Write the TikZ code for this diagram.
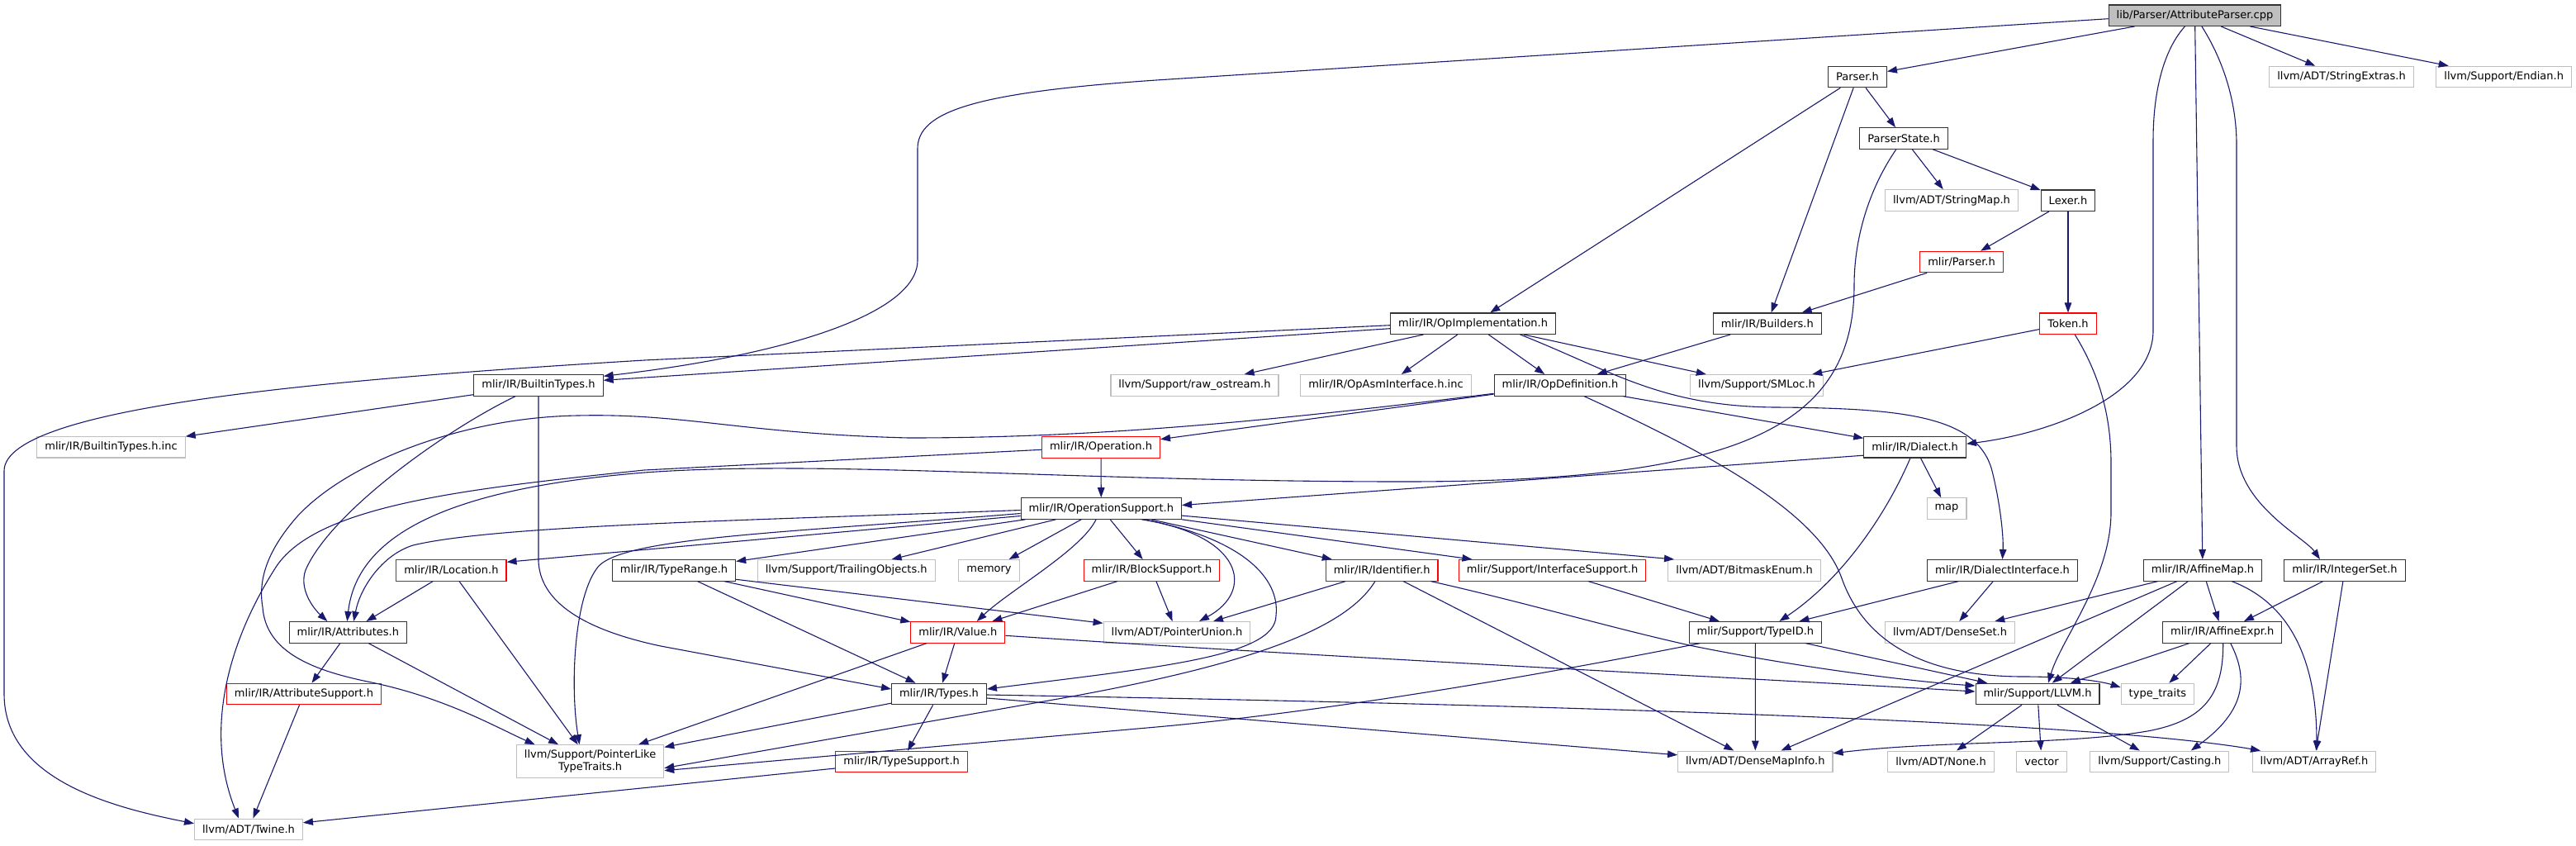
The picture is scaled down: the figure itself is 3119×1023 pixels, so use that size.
\documentclass[tikz,border=0pt]{standalone}
\usepackage{fontspec}
\setmainfont{DejaVu Sans}
\usetikzlibrary{arrows.meta}
\definecolor{edgecol}{HTML}{191970}
\definecolor{docborder}{HTML}{333333}
\definecolor{redborder}{HTML}{FF0000}
\definecolor{extborder}{HTML}{BFBFBF}
\definecolor{rootfill}{HTML}{BFBFBF}
\tikzset{
  basebox/.style={draw, rectangle, line width=1.1pt, minimum height=25.5pt, inner xsep=9.5pt, inner ysep=2pt, font=\fontsize{13}{15}\selectfont, anchor=center, fill=white},
  docbox/.style={basebox, draw=docborder},
  redbox/.style={basebox, draw=redborder},
  extbox/.style={basebox, draw=extborder},
  rootbox/.style={basebox, draw=docborder, fill=rootfill},
  dep/.style={draw=edgecol, line width=1.1pt, -{Triangle[length=12pt,width=8.5pt]}},
}
\begin{document}
\begin{tikzpicture}[x=1pt,y=-1pt]
\useasboundingbox (0,0) rectangle (3119,1023);
\fill[white] (0,0) rectangle (3119,1023);
% nodes
\node[rootbox] (root) at (2657.5,18.7) {lib/Parser/AttributeParser.cpp};
\node[docbox] (parser) at (2249,93) {Parser.h};
\node[extbox] (strext) at (2835,93) {llvm/ADT/StringExtras.h};
\node[extbox] (endian) at (3031.7,93) {llvm/Support/Endian.h};
\node[docbox] (pstate) at (2305,167.5) {ParserState.h};
\node[extbox] (strmap) at (2363,242.5) {llvm/ADT/StringMap.h};
\node[docbox] (lexer) at (2504,242.7) {Lexer.h};
\node[redbox] (mparser) at (2375,317) {mlir/Parser.h};
\node[docbox] (opimpl) at (1783.6,391.7) {mlir/IR/OpImplementation.h};
\node[docbox] (builders) at (2139.8,391.7) {mlir/IR/Builders.h};
\node[redbox] (token) at (2504,391.7) {Token.h};
\node[docbox] (btypes) at (652,466.3) {mlir/IR/BuiltinTypes.h};
\node[extbox] (rawos) at (1446.5,466.3) {llvm/Support/raw\_ostream.h};
\node[extbox] (opasm) at (1678,466.3) {mlir/IR/OpAsmInterface.h.inc};
\node[docbox] (opdef) at (1889,466.3) {mlir/IR/OpDefinition.h};
\node[extbox] (smloc) at (2127,466.3) {llvm/Support/SMLoc.h};
\node[extbox] (btinc) at (134.5,541.2) {mlir/IR/BuiltinTypes.h.inc};
\node[redbox] (oper) at (1333,541.3) {mlir/IR/Operation.h};
\node[docbox] (dialect) at (2318.6,541.2) {mlir/IR/Dialect.h};
\node[docbox] (opsup) at (1333.3,615.5) {mlir/IR/OperationSupport.h};
\node[extbox] (map) at (2357,615.5) {map};
\node[redbox] (loc) at (546.4,690.3) {mlir/IR/Location.h};
\node[docbox] (trange) at (816,690.3) {mlir/IR/TypeRange.h};
\node[extbox] (trail) at (1024.7,690.3) {llvm/Support/TrailingObjects.h};
\node[extbox] (memory) at (1197.5,690.3) {memory};
\node[redbox] (blocksup) at (1394.5,690.3) {mlir/IR/BlockSupport.h};
\node[redbox] (ident) at (1673.2,690.3) {mlir/IR/Identifier.h};
\node[redbox] (ifsup) at (1879.6,690.3) {mlir/Support/InterfaceSupport.h};
\node[extbox] (bitmask) at (2112,690.3) {llvm/ADT/BitmaskEnum.h};
\node[docbox] (dinterf) at (2424.5,690.3) {mlir/IR/DialectInterface.h};
\node[docbox] (amap) at (2667,690.3) {mlir/IR/AffineMap.h};
\node[docbox] (iset) at (2839,690.3) {mlir/IR/IntegerSet.h};
\node[docbox] (attrs) at (421.3,765.3) {mlir/IR/Attributes.h};
\node[redbox] (value) at (1159.8,765.3) {mlir/IR/Value.h};
\node[extbox] (punion) at (1425,765.3) {llvm/ADT/PointerUnion.h};
\node[docbox] (typeid) at (2125.4,765.3) {mlir/Support/TypeID.h};
\node[extbox] (dset) at (2361,765.3) {llvm/ADT/DenseSet.h};
\node[docbox] (aexpr) at (2690.7,765.3) {mlir/IR/AffineExpr.h};
\node[redbox] (attrsup) at (368,840) {mlir/IR/AttributeSupport.h};
\node[docbox] (types) at (1137,840) {mlir/IR/Types.h};
\node[docbox] (llvmh) at (2467,840) {mlir/Support/LLVM.h};
\node[extbox] (ttraits) at (2612.4,840) {type\_traits};
\node[extbox, align=center, minimum height=40pt] (plike) at (714.6,921.7) {llvm/Support/PointerLike\\TypeTraits.h};
\node[redbox] (tsup) at (1091.6,922) {mlir/IR/TypeSupport.h};
\node[extbox] (dmi) at (2125.3,921.8) {llvm/ADT/DenseMapInfo.h};
\node[extbox] (none) at (2350,921.8) {llvm/ADT/None.h};
\node[extbox] (vector) at (2472,921.8) {vector};
\node[extbox] (casting) at (2614.8,921.8) {llvm/Support/Casting.h};
\node[extbox] (aref) at (2802,921.8) {llvm/ADT/ArrayRef.h};
\node[extbox] (twine) at (301,1003.8) {llvm/ADT/Twine.h};
% edges from root
\draw[dep] (root) -- (parser);
\draw[dep] (root) -- (strext);
\draw[dep] (root) -- (endian);
\draw[dep] ([yshift=-4pt]root.west) -- (1400,97) .. controls (1180,112) and (1111,135) .. (1111,180) -- (1111,315) .. controls (1111,380) and (950,430) .. ([yshift=11pt]btypes.east);
\draw[dep] (root) .. controls (2620,60) and (2607,110) .. (2607,170) -- (2607,400) .. controls (2607,480) and (2480,525) .. ([yshift=4pt]dialect.east);
\draw[dep] (root) -- (amap);
\draw[dep] (root) .. controls (2690,70) and (2708,120) .. (2708,175) -- (2708,540) .. controls (2708,610) and (2790,650) .. ([xshift=-30pt]iset.north);
% parser
\draw[dep] (parser) -- (pstate);
\draw[dep] (parser) -- (opimpl);
\draw[dep] (parser) -- (builders);
\draw[dep] (pstate) -- (strmap);
\draw[dep] (pstate) -- (lexer);
\draw[dep] (pstate) .. controls (2262,230) and (2245,290) .. (2245,345) .. controls (2245,520) and (2100,583) .. (1700,583) .. controls (1300,583) and (1000,556) .. (780,572) .. controls (560,590) and (433,640) .. ([xshift=-1pt]attrs.north);
\draw[dep] (lexer) -- (mparser);
\draw[dep] (lexer) -- (token);
\draw[dep] (mparser) -- (builders);
\draw[dep] (token) -- (smloc);
\draw[dep] (token) .. controls (2540,450) and (2556,500) .. (2556,560) -- (2556,620) .. controls (2556,700) and (2495,775) .. ([xshift=13pt]llvmh.north);
% opimplementation
\draw[dep] ([yshift=-6pt]opimpl.west) -- ([yshift=6pt]btypes.east);
\draw[dep] ([yshift=-2pt]opimpl.west) -- (780,436) .. controls (420,458) and (5,490) .. (5,570) -- (5,840) .. controls (5,945) and (140,978) .. ([yshift=7pt]twine.west);
\draw[dep] (opimpl) -- (rawos);
\draw[dep] (opimpl) -- (opasm);
\draw[dep] (opimpl) -- (opdef);
\draw[dep] (opimpl) -- (smloc);
\draw[dep] ([xshift=57pt]opimpl.south) .. controls (1950,448) and (2010,492) .. (2150,493) .. controls (2310,494) and (2395,505) .. (2412,570) .. controls (2422,610) and (2426,650) .. (dinterf.north);
\draw[dep] (builders) -- (opdef);
% opdefinition
\draw[dep] (opdef) -- (oper);
\draw[dep] ([yshift=-10pt]opdef.west) .. controls (1500,515) and (1300,530) .. (1100,530) .. controls (900,525) and (830,500) .. (700,503) .. controls (560,505) and (420,560) .. (360,625) .. controls (325,665) and (312,700) .. (318,735) .. controls (322,790) and (380,812) .. (450,826) .. controls (540,845) and (600,880) .. ([xshift=-67pt]plike.north);
\draw[dep] (opdef) -- (dialect);
\draw[dep] (opdef) .. controls (2050,540) and (2200,615) .. (2230,700) .. controls (2262,790) and (2350,819) .. (2450,819) .. controls (2510,819) and (2545,825) .. ([yshift=8pt]ttraits.west);
% builtin types
\draw[dep] (btypes) -- (btinc);
\draw[dep] (btypes) .. controls (540,520) and (400,620) .. (370,690) .. controls (362,712) and (378,735) .. ([xshift=-25pt]attrs.north);
\draw[dep] (btypes.south) -- (652,680) .. controls (655,735) and (720,765) .. (800,782) -- ([yshift=6pt]types.west);
% operation
\draw[dep] (oper) -- (opsup);
\draw[dep] ([yshift=-3pt]oper.west) -- (780,569) .. controls (560,592) and (385,612) .. (335,685) .. controls (280,770) and (245,880) .. ([xshift=-12pt]twine.north);
% operation support
\draw[dep] ([yshift=-2pt]opsup.west) .. controls (900,630) and (600,636) .. (500,660) .. controls (462,672) and (436,712) .. ([xshift=7pt]attrs.north);
\draw[dep] ([yshift=-6pt]opsup.west) .. controls (950,645) and (760,650) .. (725,685) .. controls (695,720) and (690,830) .. ([xshift=-13pt]plike.north);
\draw[dep] ([yshift=-9pt]opsup.west) -- ([yshift=10pt]loc.east);
\draw[dep] (opsup) -- (trange);
\draw[dep] (opsup) -- (trail);
\draw[dep] (opsup) -- (memory);
\draw[dep] (opsup) .. controls (1310,665) and (1222,715) .. ([xshift=23pt]value.north);
\draw[dep] (opsup) -- (blocksup);
\draw[dep] ([xshift=49pt]opsup.south) .. controls (1505,648) and (1520,715) .. ([xshift=27pt]punion.north);
\draw[dep] ([xshift=52pt]opsup.south) .. controls (1505,652) and (1550,700) .. (1545,745) .. controls (1545,795) and (1400,808) .. ([yshift=6pt]types.east);
\draw[dep] (opsup) -- (ident);
\draw[dep] (opsup) -- (ifsup);
\draw[dep] (opsup) -- ([xshift=-85pt]bitmask.north);
% dialect
\draw[dep] ([yshift=-10pt]dialect.west) -- ([yshift=4pt]opsup.east);
\draw[dep] (dialect) -- (map);
\draw[dep] (dialect) .. controls (2285,620) and (2232,700) .. ([xshift=29pt]typeid.north);
\draw[dep] (dinterf) -- (typeid);
\draw[dep] (dinterf) -- (dset);
% affine
\draw[dep] (amap) -- (dset);
\draw[dep] (amap) -- (dmi);
\draw[dep] (amap) -- (llvmh);
\draw[dep] (amap) -- (aexpr);
\draw[dep] (amap) .. controls (2785,735) and (2805,820) .. ([xshift=3pt]aref.north);
\draw[dep] (iset) -- (aexpr);
\draw[dep] (iset) -- (aref);
\draw[dep] (aexpr) -- (llvmh);
\draw[dep] (aexpr) -- (ttraits);
\draw[dep] ([xshift=1pt]aexpr.south) .. controls (2692,840) and (2670,872) .. (2600,885) .. controls (2500,902) and (2350,896) .. ([yshift=10pt]dmi.east);
\draw[dep] ([xshift=10pt]aexpr.south) .. controls (2722,820) and (2720,860) .. ([xshift=38pt]casting.north);
\draw[dep] (llvmh) -- (none);
\draw[dep] (llvmh) -- (vector);
\draw[dep] (llvmh) -- (casting);
% types, value
\draw[dep] (types) -- (plike);
\draw[dep] (types) -- (tsup);
\draw[dep] ([yshift=-5pt]types.east) -- ([yshift=8pt]dmi.west);
\draw[dep] ([yshift=-1pt]types.east) .. controls (1700,850) and (2500,868) .. ([xshift=-65pt]aref.north);
\draw[dep] (value) -- (types);
\draw[dep] (value) -- (plike);
\draw[dep] ([yshift=-4pt]value.east) .. controls (1600,795) and (2100,820) .. ([yshift=3pt]llvmh.west);
% identifier
\draw[dep] (ident) -- (punion);
\draw[dep] (ident) .. controls (1630,760) and (1520,805) .. (1258,850) -- ([yshift=-8pt]plike.east);
\draw[dep] (ident) -- (dmi);
\draw[dep] (ident) .. controls (1850,730) and (1950,760) .. (2050,782) .. controls (2200,812) and (2330,826) .. ([yshift=10pt]llvmh.west);
% typeid
\draw[dep] (typeid) .. controls (1850,820) and (1600,862) .. (1400,880) -- ([yshift=-11pt]plike.east);
\draw[dep] (typeid) -- (dmi);
\draw[dep] (typeid) -- (llvmh);
\draw[dep] (ifsup) -- (typeid);
% typerange, blocksupport
\draw[dep] (trange) -- (value);
\draw[dep] ([yshift=-11pt]trange.east) -- ([yshift=11pt]punion.west);
\draw[dep] (trange) -- (types);
\draw[dep] (blocksup) -- (value);
\draw[dep] (blocksup) -- (punion);
% location, attributes
\draw[dep] (loc) -- (attrs);
\draw[dep] (loc) -- (plike);
\draw[dep] (attrs) -- (attrsup);
\draw[dep] (attrs) -- (plike);
\draw[dep] (attrsup) -- (twine);
\draw[dep] ([yshift=-8pt]tsup.west) -- ([yshift=8pt]twine.east);
\end{tikzpicture}
\end{document}
